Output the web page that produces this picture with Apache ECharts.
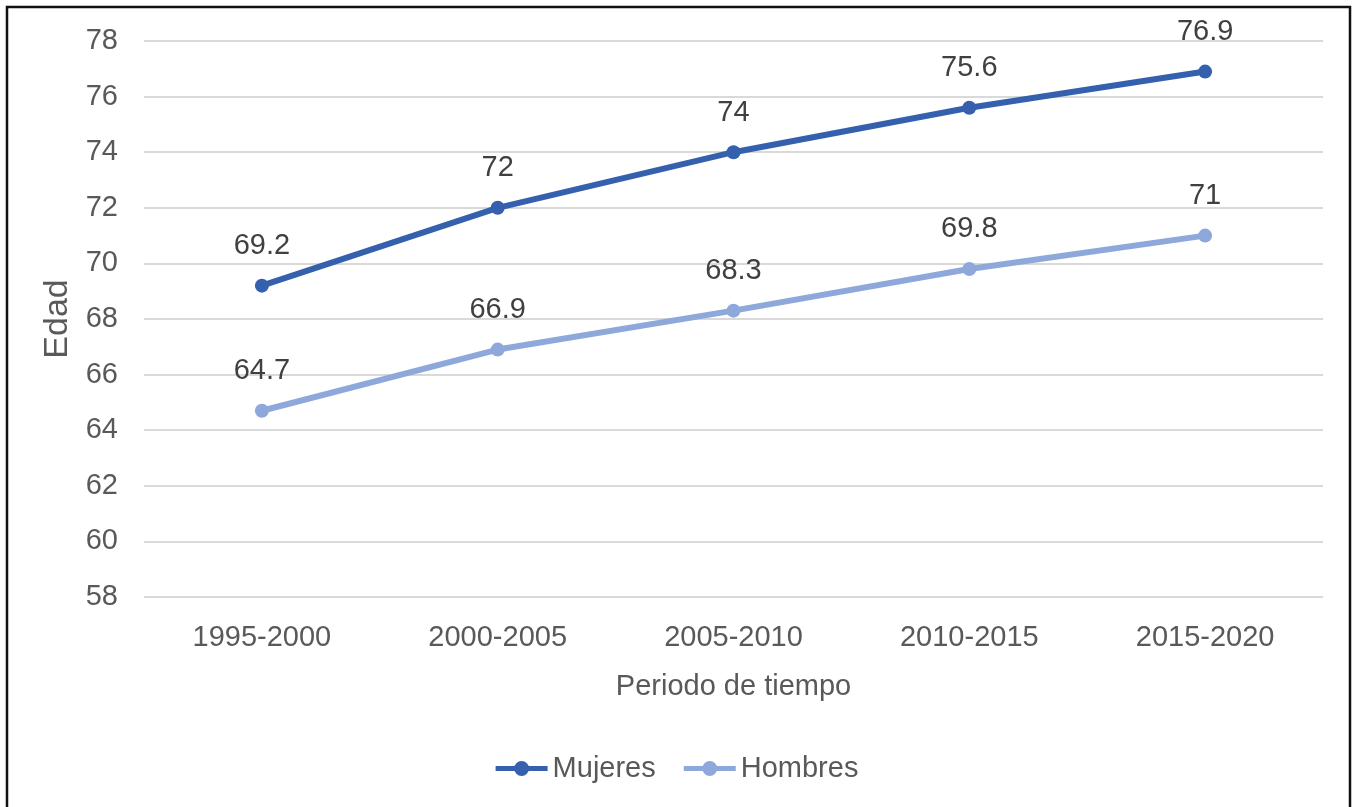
<!DOCTYPE html>
<html>
<head>
<meta charset="utf-8">
<script src="https://cdn.jsdelivr.net/npm/echarts@6/dist/echarts.min.js"></script>
<style>
  html, body { margin: 0; padding: 0; background: #fff; }
  #chart { width: 1354px; height: 807px; }
</style>
</head>
<body>
<div id="chart"></div>
<script>
// Esperanza de vida por periodo
const periodos = ['1995-2000', '2000-2005', '2005-2010', '2010-2015', '2015-2020'];
const mujeres = [69.2, 72, 74, 75.6, 76.9];
const hombres = [64.7, 66.9, 68.3, 69.8, 71];
const yMin = 58, yMax = 78, yStep = 2;

const FONT = '"Liberation Sans", Arial, sans-serif';
const SIZE = 29;
// legend icon: thick line with a dot in the middle (both sub-paths clockwise)
const LEGEND_ICON = 'path://M0,6h52v5H0z M18.5,8.5a7.5,7.5 0 1,1 15,0a7.5,7.5 0 1,1 -15,0z';
const chart = echarts.init(document.getElementById('chart'), null, { renderer: 'canvas' });

function lineSeries(name, data, color) {
  return {
    name: name,
    type: 'line',
    data: data,
    symbol: 'circle',
    symbolSize: 14,
    lineStyle: { width: 6, color: color },
    itemStyle: { color: color },
    label: {
      show: true,
      position: 'top',
      distance: 18,
      fontFamily: FONT,
      fontSize: SIZE,
      color: '#404040'
    },
    emphasis: { disabled: true },
    animation: false
  };
}

chart.setOption({
  backgroundColor: '#fff',
  animation: false,
  textStyle: { fontFamily: FONT },
  graphic: [{
    type: 'rect',
    shape: { x: 7, y: 7, width: 1343, height: 830 },
    style: { fill: 'none', stroke: '#111', lineWidth: 2.5 },
    silent: true
  }],
  grid: { left: 144, right: 31, top: 41, bottom: 210 },
  legend: {
    data: [
      { name: 'Mujeres', icon: LEGEND_ICON },
      { name: 'Hombres', icon: LEGEND_ICON }
    ],
    bottom: 19,
    left: 'center',
    itemWidth: 52,
    itemHeight: 15,
    itemGap: 28,
    textStyle: { fontFamily: FONT, fontSize: SIZE, color: '#595959' }
  },
  xAxis: {
    type: 'category',
    data: periodos,
    boundaryGap: true,
    name: 'Periodo de tiempo',
    nameLocation: 'middle',
    nameGap: 75,
    nameTextStyle: { fontFamily: FONT, fontSize: SIZE, color: '#595959' },
    axisLine: { show: false },
    axisTick: { show: false },
    axisLabel: { fontFamily: FONT, fontSize: SIZE, color: '#595959', margin: 26 }
  },
  yAxis: {
    type: 'value',
    min: yMin,
    max: yMax,
    interval: yStep,
    name: 'Edad',
    nameLocation: 'middle',
    nameGap: 68,
    nameTextStyle: { fontFamily: FONT, fontSize: 34, color: '#595959' },
    axisLine: { show: false },
    axisTick: { show: false },
    axisLabel: { fontFamily: FONT, fontSize: SIZE, color: '#595959', margin: 26 },
    splitLine: { lineStyle: { color: '#d9d9d9', width: 2 } }
  },
  series: [
    lineSeries('Mujeres', mujeres, '#3560ad'),
    lineSeries('Hombres', hombres, '#8fa8db')
  ]
});
</script>
</body>
</html>
